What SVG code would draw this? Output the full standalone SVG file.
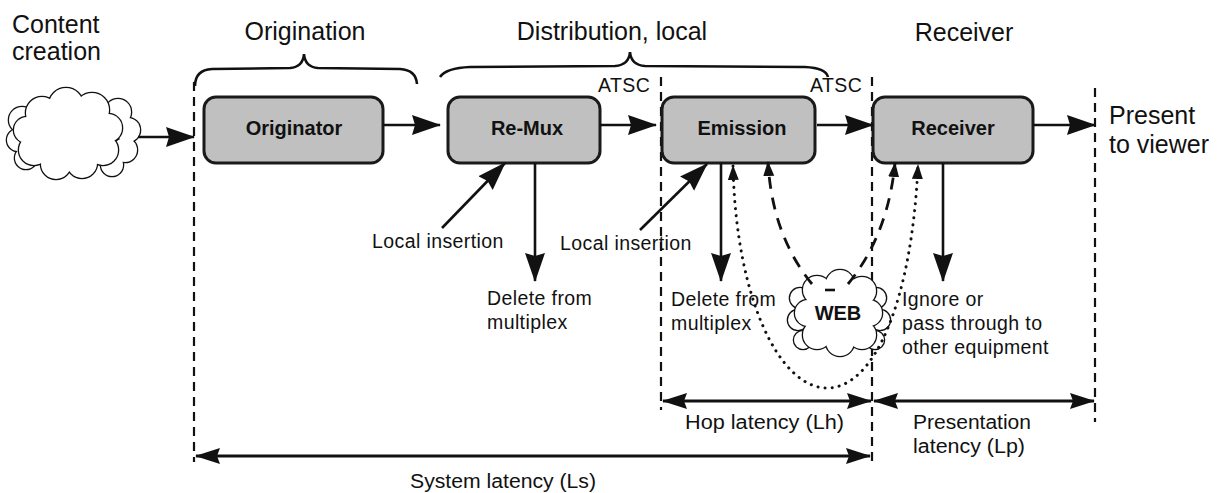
<svg xmlns="http://www.w3.org/2000/svg" xmlns:xlink="http://www.w3.org/1999/xlink" width="1220" height="493" viewBox="0 0 1220 493">
<style>
text{font-family:"Liberation Sans",Arial,sans-serif;fill:#111}
.big{font-size:25px}
.lab{font-size:19.5px;letter-spacing:0.4px}
.bx{font-size:20px;font-weight:bold;text-anchor:middle}
.nar{font-family:"Liberation Sans Narrow","Liberation Sans",Arial,sans-serif;font-size:20px}
.box{fill:#c0c0c0;stroke:#1a1a1a;stroke-width:3}
.cs{fill:none;stroke:#111;stroke-width:2.6}
.cf{fill:#fff;stroke:none}
.vd{fill:none;stroke:#111;stroke-width:2.2;stroke-dasharray:9 6}
.br{fill:none;stroke:#111;stroke-width:2.6}
.ar{fill:none;stroke:#111;stroke-width:2.6;marker-end:url(#ah)}
.lat{fill:none;stroke:#111;stroke-width:3;marker-start:url(#lh);marker-end:url(#lh)}
.dsh{fill:none;stroke:#111;stroke-width:2.8;stroke-dasharray:12 9;marker-end:url(#sh)}
.dot{fill:none;stroke:#111;stroke-width:3;stroke-dasharray:0.1 7;stroke-linecap:round;marker-start:url(#sh2);marker-end:url(#sh)}
</style>
<defs>
<marker id="ah" markerUnits="userSpaceOnUse" markerWidth="30" markerHeight="22" refX="28" refY="11" orient="auto"><path d="M0,1 L29,11 L0,21 L3,11 Z" fill="#111"/></marker>
<marker id="lh" markerUnits="userSpaceOnUse" markerWidth="26" markerHeight="20" refX="24" refY="10" orient="auto-start-reverse"><path d="M0,2 L25,10 L0,18 L3,10 Z" fill="#111"/></marker>
<marker id="sh" markerUnits="userSpaceOnUse" markerWidth="16" markerHeight="12" refX="14" refY="6" orient="auto"><path d="M0,0.5 L15,6 L0,11.5 Z" fill="#111"/></marker>
<marker id="sh2" markerUnits="userSpaceOnUse" markerWidth="16" markerHeight="12" refX="14" refY="6" orient="auto-start-reverse"><path d="M0,0.5 L15,6 L0,11.5 Z" fill="#111"/></marker>
<g id="cc-back"><circle cx="22" cy="120" r="13"/><circle cx="18" cy="140" r="11"/><circle cx="26" cy="158" r="11"/><circle cx="118" cy="112" r="13"/><circle cx="128" cy="130" r="12"/><circle cx="125" cy="150" r="12"/><circle cx="112" cy="165" r="11"/></g>
<g id="cc-front"><circle cx="42" cy="113" r="16"/><circle cx="66" cy="105" r="17"/><circle cx="92" cy="110" r="17"/><circle cx="108" cy="128" r="14"/><circle cx="103" cy="150" r="15"/><circle cx="82" cy="163" r="15"/><circle cx="56" cy="164" r="15"/><circle cx="34" cy="150" r="15"/><circle cx="27" cy="130" r="13"/><circle cx="68" cy="135" r="30"/></g>
<g id="wc-back"><circle cx="800" cy="298" r="10"/><circle cx="798" cy="320" r="10"/><circle cx="803" cy="340" r="9"/><circle cx="876" cy="298" r="10"/><circle cx="880" cy="320" r="10"/><circle cx="875" cy="340" r="9"/></g>
<g id="wc-front"><circle cx="817" cy="290" r="14"/><circle cx="840" cy="284" r="14"/><circle cx="862" cy="291" r="14"/><circle cx="869" cy="313" r="13"/><circle cx="862" cy="335" r="14"/><circle cx="840" cy="342" r="14"/><circle cx="817" cy="335" r="14"/><circle cx="808" cy="313" r="13"/><circle cx="838" cy="313" r="24"/></g>
</defs>
<rect width="1220" height="493" fill="#fff"/>

<g id="headings">
<text class="big" x="12" y="33">Content</text>
<text class="big" x="12" y="60">creation</text>
<text class="big" x="305" y="40" text-anchor="middle">Origination</text>
<text class="big" x="612" y="40" text-anchor="middle">Distribution, local</text>
<text class="big" x="964" y="41" text-anchor="middle">Receiver</text>
<text class="big" x="1109" y="124">Present</text>
<text class="big" x="1109" y="153">to viewer</text>
<text class="lab" x="598" y="92">ATSC</text>
<text class="lab" x="810" y="92">ATSC</text>
</g>

<g id="braces">
<path class="br" d="M195,86 Q195,70 212,69 L290,68 Q303,67 304,54 Q305,67 318,68 L400,69 Q416,70 417,84"/>
<path class="br" d="M440,77 Q446,68 470,67 L615,66 Q629,65 630,52 Q631,65 645,66 L805,67 Q826,68 828,77"/>
</g>

<g id="boundaries">
<line class="vd" x1="194" y1="82" x2="194" y2="462"/>
<line class="vd" x1="661" y1="77" x2="661" y2="410"/>
<line class="vd" x1="872" y1="77" x2="872" y2="466"/>
<line class="vd" x1="1095" y1="88" x2="1095" y2="422"/>
</g>

<g id="content-cloud">
<use xlink:href="#cc-back" class="cs"/><use xlink:href="#cc-back" class="cf"/>
<use xlink:href="#cc-front" class="cs"/><use xlink:href="#cc-front" class="cf"/>
</g>
<g id="web-cloud">
<use xlink:href="#wc-back" class="cs"/><use xlink:href="#wc-back" class="cf"/>
<use xlink:href="#wc-front" class="cs"/><use xlink:href="#wc-front" class="cf"/>
<text x="838" y="320" font-size="20" font-weight="bold" text-anchor="middle">WEB</text>
</g>

<g id="originator"><rect class="box" x="204" y="97" width="179" height="66" rx="12"/><text class="bx" x="294" y="135">Originator</text></g>
<g id="remux"><rect class="box" x="448" y="97" width="152" height="66" rx="12"/><text class="bx" x="527" y="135">Re-Mux</text></g>
<g id="emission"><rect class="box" x="662" y="97" width="153" height="66" rx="12"/><text class="bx" x="742" y="135">Emission</text></g>
<g id="receiver"><rect class="box" x="873" y="97" width="160" height="66" rx="12"/><text class="bx" x="953" y="135">Receiver</text></g>

<g id="connectors">
<line class="ar" x1="138" y1="137" x2="194" y2="137"/>
<line class="ar" x1="383" y1="125" x2="440" y2="125"/>
<line class="ar" x1="600" y1="125" x2="656" y2="125"/>
<line class="ar" x1="817" y1="125" x2="873" y2="125"/>
<line class="ar" x1="1033" y1="125" x2="1095" y2="125"/>
<line class="ar" x1="442" y1="228" x2="505" y2="163"/>
<line class="ar" x1="640" y1="230" x2="707" y2="164"/>
<line class="ar" x1="535" y1="163" x2="535" y2="281"/>
<line class="ar" x1="721" y1="163" x2="721" y2="281"/>
<line class="ar" x1="943" y1="163" x2="943" y2="281"/>
<path class="dsh" d="M812,284 Q772,235 768,162"/>
<path class="dsh" d="M848,284 Q888,235 895,163"/>
<line x1="825" y1="290" x2="835" y2="290" stroke="#111" stroke-width="2.6"/>
<path class="dot" d="M733,166 C736,300 780,388 827,388 C875,388 912,300 918,165"/>
<line class="lat" x1="663" y1="401" x2="871" y2="401"/>
<line class="lat" x1="874" y1="401" x2="1094" y2="401"/>
<line class="lat" x1="196" y1="456" x2="870" y2="456"/>
</g>

<g id="labels">
<text class="lab" x="372" y="248">Local insertion</text>
<text class="lab" x="560" y="250">Local insertion</text>
<text class="lab" x="487" y="305">Delete from</text>
<text class="lab" x="487" y="329">multiplex</text>
<text class="lab" x="671" y="306">Delete from</text>
<text class="lab" x="671" y="330">multiplex</text>
<text class="lab" x="902" y="306">Ignore or</text>
<text class="lab" x="902" y="330">pass through to</text>
<text class="lab" x="902" y="354">other equipment</text>
<text class="nar" x="685" y="429" textLength="159" lengthAdjust="spacingAndGlyphs">Hop latency (Lh)</text>
<text class="nar" x="913" y="429" textLength="118" lengthAdjust="spacingAndGlyphs">Presentation</text>
<text class="nar" x="913" y="453" textLength="112" lengthAdjust="spacingAndGlyphs">latency (Lp)</text>
<text class="nar" x="410" y="488" textLength="186" lengthAdjust="spacingAndGlyphs">System latency (Ls)</text>
</g>
</svg>
